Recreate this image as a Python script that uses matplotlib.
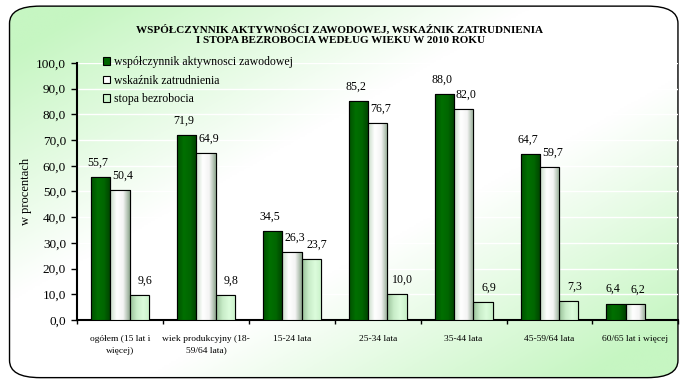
import numpy as np
import matplotlib
matplotlib.use("Agg")
import matplotlib.pyplot as plt
from matplotlib.patches import FancyBboxPatch
from matplotlib.colors import LinearSegmentedColormap

categories = ["ogółem (15 lat i\nwięcej)", "wiek produkcyjny (18-\n59/64 lata)", "15-24 lata",
              "25-34 lata", "35-44 lata", "45-59/64 lata", "60/65 lat i więcej"]
aktywnosc = [55.7, 71.9, 34.5, 85.2, 88.0, 64.7, 6.4]
zatrudnienie = [50.4, 64.9, 26.3, 76.7, 82.0, 59.7, 6.2]
bezrobocie = [9.6, 9.8, 23.7, 10.0, 6.9, 7.3, np.nan]
series_names = ["współczynnik aktywnosci zawodowej", "wskaźnik zatrudnienia", "stopa bezrobocia"]
title = "WSPÓŁCZYNNIK AKTYWNOŚCI ZAWODOWEJ, WSKAŹNIK ZATRUDNIENIA\nI STOPA BEZROBOCIA WEDŁUG WIEKU W 2010 ROKU"
ylabel = "w procentach"

plt.rcParams['font.family'] = ['Liberation Serif', 'DejaVu Serif']

fig = plt.figure(figsize=(6.8, 3.83), dpi=100)

# background gradient: green at top-left and bottom-right, white band along the anti-diagonal
bg = fig.add_axes([0, 0, 1, 1], zorder=0)
bg.set_axis_off()
yy, xx = np.mgrid[0:1:200j, 0:1:300j]
d = xx + yy
t = np.clip((np.abs(d - 1.0) - 0.2) / 0.65, 0, 1)
bg_cmap = LinearSegmentedColormap.from_list("bg", ["#ffffff", "#c6f6c2"])
bg.set_xlim(0, 1); bg.set_ylim(0, 1)
border = FancyBboxPatch((0.014, 0.014), 0.983, 0.97, boxstyle="round,pad=0,rounding_size=0.045",
                        transform=bg.transAxes, facecolor="none", edgecolor="black", lw=1.0)
bg.add_patch(border)
im = bg.imshow(t, cmap=bg_cmap, extent=[0, 1, 0, 1], origin="upper", aspect="auto", vmin=0, vmax=1)
im.set_clip_path(border)

ax = fig.add_axes([0.1135, 0.1645, 0.884, 0.671], zorder=1)
ax.patch.set_alpha(0)

n = len(categories)
x = np.arange(n)
w = 0.225
series = [aktywnosc, zatrudnienie, bezrobocie]
grads = [
    ["#005000", "#007000", "#006600", "#004000"],
    ["#c8dcc8", "#ffffff", "#f4f4f4", "#90a890"],
    ["#98c098", "#c8ecc8", "#dcfcdc", "#c8f0c8"],
]
solid = ["#006600", "#ffffff", "#ccf5cc"]
label_dx = [-2, 2, 4]
for i, (vals, g) in enumerate(zip(series, grads)):
    cmap = LinearSegmentedColormap.from_list("c%d" % i, g)
    bars = ax.bar(x + (i - 1) * w, vals, w, color=solid[i], edgecolor="black", lw=0.8,
                  label=series_names[i], zorder=3)
    for b, v in zip(bars, vals):
        if np.isnan(v):
            continue
        x0, wd, h = b.get_x(), b.get_width(), b.get_height()
        img = ax.imshow(np.linspace(0, 1, 50).reshape(1, -1), cmap=cmap, aspect="auto",
                        extent=[x0, x0 + wd, 0, h], zorder=3.5)
        img.set_clip_path(b)
        ax.bar(x0 + wd / 2, h, wd, facecolor="none", edgecolor="black", lw=0.8, zorder=4)
        ax.annotate(f"{v:.1f}".replace(".", ","), (x0 + wd / 2, h), xytext=(label_dx[i], 6),
                    textcoords="offset points", ha="center", va="bottom", fontsize=8.6, zorder=5)

ax.set_xlim(-0.5, n - 0.5)
ax.set_ylim(0, 100)
ax.set_yticks(np.arange(0, 101, 10))
ax.set_yticklabels([f"{v:.1f}".replace(".", ",") for v in np.arange(0, 101, 10)], fontsize=9.5)
ax.set_xticks(x)
ax.set_xticklabels(categories, fontsize=6.8, linespacing=1.55)
ax.tick_params(axis="x", length=0, pad=11)
ax.set_xticks(np.arange(-0.5, n, 1), minor=True)
ax.tick_params(axis="x", which="minor", length=3, width=1, direction="out")
ax.tick_params(axis="y", length=4, width=1, direction="out", pad=4)
ax.grid(axis="y", color="white", lw=1.0, zorder=1)
for s in ["top", "right"]:
    ax.spines[s].set_visible(False)
ax.spines["left"].set_linewidth(1.5)
ax.spines["bottom"].set_linewidth(1.5)
ax.set_ylabel(ylabel, fontsize=9)
ax.yaxis.set_label_coords(-0.075, 0.5)

leg = ax.legend(loc="upper left", bbox_to_anchor=(0.035, 1.045), frameon=False, fontsize=8.5,
                handlelength=0.6, handleheight=0.6, handletextpad=0.3, labelspacing=0.55,
                borderaxespad=0)
fig.text(0.5, 0.91, title, ha="center", va="center", fontsize=8, fontweight="bold", linespacing=1.2)

fig.savefig("out.png", dpi=100)
